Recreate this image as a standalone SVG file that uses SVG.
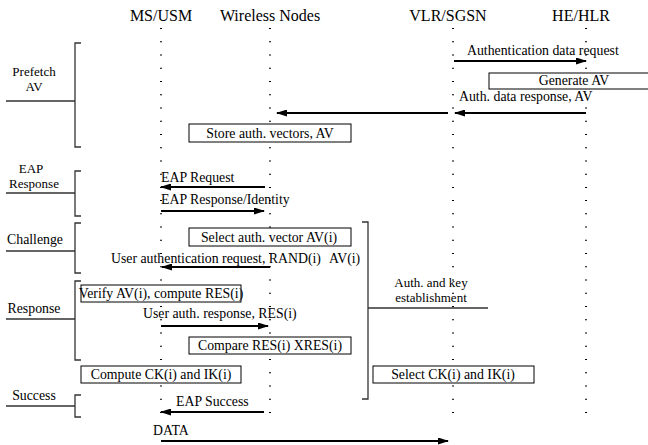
<svg xmlns="http://www.w3.org/2000/svg" width="648" height="445" viewBox="0 0 648 445">
<style>
text{font-family:"Liberation Serif","Times New Roman",serif;font-size:13.8px;fill:#000}
.hd{font-size:16px;text-anchor:middle}
.c{text-anchor:middle}
.two{font-size:13px}
.life{stroke:#000;stroke-width:2;stroke-dasharray:1 12.24;fill:none}
.box{fill:#fff;stroke:#000;stroke-width:1}
.br{fill:none;stroke:#333;stroke-width:1.3}
.msg{stroke:#000;stroke-width:2.2;fill:none;marker-end:url(#ah)}
</style>
<defs>
<marker id="ah" markerUnits="userSpaceOnUse" markerWidth="11" markerHeight="7" refX="10" refY="3.5" orient="auto">
<path d="M0,0 L11,3.5 L0,7 Z" fill="#000"/>
</marker>
</defs>
<rect width="648" height="445" fill="#fff"/>

<g id="ms-usm"><text class="hd" x="161" y="21">MS/USM</text><line class="life" x1="161" y1="28" x2="161" y2="414"/></g>
<g id="wireless-nodes"><text class="hd" x="270" y="21">Wireless Nodes</text><line class="life" x1="270" y1="28" x2="270" y2="414"/></g>
<g id="vlr-sgsn"><text class="hd" x="448" y="21">VLR/SGSN</text><line class="life" x1="453" y1="28" x2="453" y2="414"/></g>
<g id="he-hlr"><text class="hd" x="581" y="21">HE/HLR</text><line class="life" x1="586" y1="28" x2="586" y2="414"/></g>

<g id="prefetch"><path class="br" d="M81,43 H75 V147 H81 M6,101 H75"/><text class="c two" x="34" y="76">Prefetch</text><text class="c two" x="34" y="91">AV</text></g>
<g id="eap-response"><path class="br" d="M81,171 H75 V216 H81 M6,193 H75"/><text class="c two" x="31" y="173">EAP</text><text class="c two" x="34" y="188">Response</text></g>
<g id="challenge"><path class="br" d="M81,223 H75 V273 H81 M6,251 H75"/><text class="c" x="35" y="244">Challenge</text></g>
<g id="response"><path class="br" d="M81,281 H75 V360 H81 M6,319 H75"/><text class="c" x="34" y="313">Response</text></g>
<g id="success"><path class="br" d="M81,395 H75 V417 H81 M6,406 H75"/><text class="c" x="34" y="400">Success</text></g>
<g id="auth-key"><path class="br" d="M362,222 H368 V399 H362 M368,308 H488"/><text class="c two" x="431" y="287">Auth. and key</text><text class="c two" x="431" y="302">establishment</text></g>

<g id="generate-av"><rect class="box" x="489" y="73" width="165" height="16"/><text class="c" x="574" y="85">Generate AV</text></g>
<g id="store-av"><rect class="box" x="189" y="124" width="162" height="18"/><text class="c" x="270" y="138">Store auth. vectors, AV</text></g>
<g id="select-av"><rect class="box" x="189" y="228" width="162" height="18"/><text class="c" x="269" y="242">Select auth. vector AV(i)</text></g>
<g id="verify-av"><rect class="box" x="81" y="285" width="160" height="17"/><text class="c" x="161" y="298">Verify AV(i), compute RES(i)</text></g>
<g id="compare-res"><rect class="box" x="189" y="337" width="162" height="17"/><text class="c" x="270" y="350">Compare RES(i) XRES(i)</text></g>
<g id="compute-ck"><rect class="box" x="81" y="366" width="160" height="17"/><text class="c" x="161" y="379">Compute CK(i) and IK(i)</text></g>
<g id="select-ck"><rect class="box" x="373" y="366" width="161" height="17"/><text class="c" x="453" y="379">Select CK(i) and IK(i)</text></g>

<g id="connectors">
<line class="msg" x1="454" y1="61" x2="586" y2="61"/>
<line class="msg" x1="586" y1="113" x2="455" y2="113"/>
<line class="msg" x1="448" y1="113" x2="277" y2="113"/>
<line class="msg" x1="265" y1="187" x2="161" y2="187"/>
<line class="msg" x1="161" y1="211" x2="264" y2="211"/>
<line class="msg" x1="270" y1="267" x2="162" y2="267"/>
<line class="msg" x1="161" y1="326" x2="268" y2="326"/>
<line class="msg" x1="264" y1="412" x2="161" y2="412"/>
<line class="msg" x1="161" y1="441" x2="448" y2="441"/>
<text x="467" y="55">Authentication data request</text>
<text x="459" y="101">Auth. data response, AV</text>
<text x="161" y="182">EAP Request</text>
<text x="161" y="204">EAP Response/Identity</text>
<text x="111" y="263">User authentication request, RAND(i)</text>
<text x="329" y="263">AV(i)</text>
<text x="143" y="318">User auth. response, RES(i)</text>
<text x="176" y="406">EAP Success</text>
<text x="153" y="435">DATA</text>
</g>
</svg>
